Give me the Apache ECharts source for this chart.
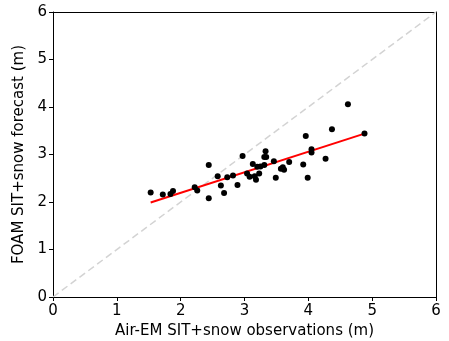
<!DOCTYPE html>
<html>
<head>
<meta charset="utf-8">
<script src="https://cdn.jsdelivr.net/npm/echarts@6/dist/echarts.min.js"></script>
<style>
  html, body { margin: 0; padding: 0; background: #fff; }
  #chart { width: 449px; height: 341px; }
</style>
</head>
<body>
<div id="chart"></div>
<script>
// observations (m) vs forecast (m)
const obsX = [1.53, 1.72, 1.84, 1.88, 2.22, 2.26, 2.44, 2.44, 2.58, 2.63, 2.68, 2.73, 2.82, 2.89,
  2.97, 3.04, 3.08, 3.13, 3.16, 3.18, 3.20, 3.23, 3.25, 3.31, 3.31, 3.34, 3.33, 3.46, 3.49,
  3.57, 3.60, 3.62, 3.70, 3.92, 3.99, 3.96, 4.05, 4.05, 4.27, 4.37, 4.62, 4.88];
const fcstY = [2.20, 2.16, 2.17, 2.23, 2.31, 2.24, 2.78, 2.08, 2.54, 2.35, 2.19, 2.52, 2.56, 2.36,
  2.97, 2.60, 2.53, 2.80, 2.54, 2.47, 2.74, 2.60, 2.75, 2.78, 2.95, 2.95, 3.07, 2.86, 2.51,
  2.70, 2.73, 2.68, 2.84, 2.79, 2.51, 3.39, 3.11, 3.04, 2.91, 3.53, 4.06, 3.44];
const fitX = [1.53, 4.88];
const fitY = [1.99, 3.44];
const oneToOne = [0, 6];
const ticks = [0, 1, 2, 3, 4, 5, 6];

const font = 'DejaVu Sans';
const chart = echarts.init(document.getElementById('chart'));

const mainAxis = (name, gap, margin) => ({
  type: 'value', min: ticks[0], max: ticks[ticks.length - 1], interval: 1,
  name: name, nameLocation: 'middle', nameGap: gap,
  nameTextStyle: { color: '#000', fontFamily: font, fontSize: 15 },
  axisLine: { show: true, lineStyle: { color: '#000', width: 1 } },
  axisTick: { show: true, inside: false, length: 4, lineStyle: { color: '#000' } },
  axisLabel: { color: '#000', fontFamily: font, fontSize: 15, margin: margin },
  splitLine: { show: false }
});
const frameAxis = (pos) => ({
  type: 'value', min: 0, max: 6, position: pos,
  axisLine: { show: true, onZero: false, lineStyle: { color: '#000', width: 1 } },
  axisTick: { show: false }, axisLabel: { show: false }, splitLine: { show: false }
});

chart.setOption({
  animation: false,
  grid: { left: 53, right: 13, top: 12, bottom: 44, outerBoundsMode: 'none' },
  xAxis: [mainAxis('Air-EM SIT+snow observations (m)', 25, 7), frameAxis('top')],
  yAxis: [mainAxis('FOAM SIT+snow forecast (m)', 24, 6), frameAxis('right')],
  series: [
    {
      type: 'line', data: oneToOne.map(v => [v, v]), symbol: 'none', z: 1,
      lineStyle: { color: '#d3d3d3', width: 1.5, type: [7, 4] }
    },
    {
      type: 'line', data: fitX.map((x, i) => [x, fitY[i]]), symbol: 'none', z: 2,
      lineStyle: { color: '#ff0000', width: 2 }
    },
    {
      type: 'scatter', data: obsX.map((x, i) => [x, fcstY[i]]), z: 5,
      symbolSize: 6, itemStyle: { color: '#000', opacity: 1 }
    }
  ]
});
</script>
</body>
</html>
